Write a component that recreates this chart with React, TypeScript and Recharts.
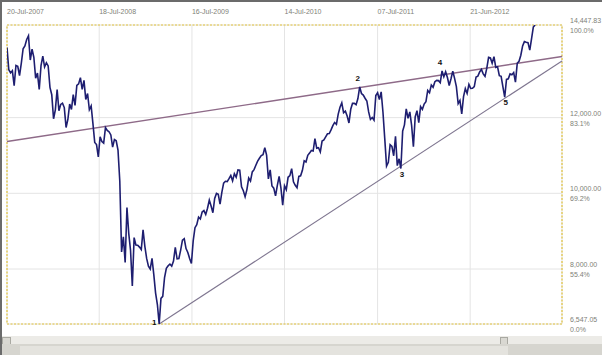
import {
  CartesianGrid,
  Line,
  LineChart,
  ReferenceArea,
  ReferenceDot,
  ReferenceLine,
  XAxis,
  YAxis,
} from "recharts";

// weekly closes (Jul 2007 .. Mar 2013)
const closes2007 = [
  13851, 13265, 13182, 13240, 12845, 13378, 13358, 13113, 13442, 13820, 13896, 14066,
  14165, 13522, 13807, 13595, 13042, 13176, 12743, 13372, 13625, 13339, 13450, 13366,
];
const closes2008 = [
  12800, 12606, 11971, 12207, 12743, 12182, 12348, 12381, 12266, 11740, 11951, 12361,
  12216, 12609, 12325, 12849, 12891, 13058, 12745, 12986, 12479, 12638, 12209, 12307,
  11843, 11346, 11288, 10963, 11496, 11370, 11326, 11734, 11659, 11628, 11543, 11220,
  11421, 11388, 11143, 10325, 8451, 8852, 8175, 9625, 8943, 8497, 7552, 8829,
  8635, 8629, 8579, 8515,
];
const closes2009 = [
  9034, 8599, 8281, 8077, 8000, 8280, 7850, 7365, 7062, 6547.05, 7224, 7278,
  7776, 8017, 8083, 8131, 8076, 8212, 8575, 8268, 8277, 8500, 8764, 8799,
  8540, 8438, 8280, 8146, 8743, 9093, 9172, 9370, 9321, 9505, 9544, 9441,
  9605, 9820, 9665, 9487, 9865, 9996, 9972, 9713, 10023, 10270, 10318, 10310,
  10388, 10471, 10329, 10520, 10428,
];
const closes2010 = [
  10618, 10610, 10173, 10067, 9908, 10099, 10402, 10325, 10566, 10625, 10742, 10850,
  10927, 10997, 11019, 11204, 11009, 10380, 10620, 10193, 10137, 9931, 10212, 10450,
  10144, 9686, 10198, 10097, 10424, 10466, 10654, 10303, 10213, 10150, 10448, 10463,
  10607, 10860, 10829, 11006, 11063, 11133, 11118, 11444, 11193, 11204, 11092, 11382,
  11410, 11492, 11573, 11578,
];
const closes2011 = [
  11675, 11787, 11872, 11824, 12092, 12273, 12391, 12130, 12170, 12044, 11859, 12221,
  12377, 12380, 12342, 12505, 12811, 12638, 12596, 12512, 12441, 12151, 11952, 12004,
  11934, 12583, 12657, 12479, 12681, 12143, 11445, 10720, 10818, 11285, 11240, 10992,
  11509, 10733, 10913, 10655, 11644, 11809, 12231, 11983, 12153, 11796, 11231, 12019,
  12184, 11866, 12294, 12218,
];
const closes2012 = [
  12360, 12422, 12720, 12660, 12862, 12801, 12950, 12983, 12978, 12922, 13233, 13081,
  13212, 13060, 12850, 13029, 13228, 13038, 12821, 12369, 12455, 12101, 12554, 12767,
  12640, 12880, 12772, 12777, 12822, 13075, 13096, 13207, 13275, 13157, 13090, 13306,
  13593, 13579, 13437, 13610, 13328, 13343, 13107, 13093, 12815, 12542, 13010, 13026,
  13155, 13135, 13190, 12938,
];
const closes2013 = [13435, 13488, 13650, 13896, 14010, 13993, 13982, 13784, 14090, 14397, 14447.83];

const closes = [
  ...closes2007,
  ...closes2008,
  ...closes2009,
  ...closes2010,
  ...closes2011,
  ...closes2012,
  ...closes2013,
];

const xDomainEnd = 310;
const xTickIndex = [0, 51.5, 103.3, 155, 207, 258.7];
const xTickLabels = ["20-Jul-2007", "18-Jul-2008", "16-Jul-2009", "14-Jul-2010", "07-Jul-2011", "21-Jun-2012"];

const yMin = 6547.05;
const yMax = 14447.83;
const yTickValues = [6547.05, 8000, 10000, 12000, 14447.83];
const yTickLabels = ["6,547.05", "8,000.00", "10,000.00", "12,000.00", "14,447.83"];
const yTickPercent = ["0.0%", "55.4%", "69.2%", "83.1%", "100.0%"];

const upperTrend = [
  { x: 0, y: 11369 },
  { x: 310, y: 13615 },
];
const lowerTrend = [
  { x: 85, y: 6547.05 },
  { x: 310, y: 13497 },
];

const waveLabels = ["1", "2", "3", "4", "5"];
const waveIndex = [85, 197, 220, 243, 278];
const waveSide = ["left", "top", "bottom", "top", "bottom"];

const data = closes.map((v, i) => ({ i, v }));

const FONT = "'Liberation Sans Narrow', 'Liberation Sans', Arial, sans-serif";

function XTick(props: any) {
  const { x, payload } = props;
  const idx = xTickIndex.indexOf(payload.value);
  return (
    <text x={x} y={14} fontSize={7} fontFamily={FONT} fill="#807f78" textAnchor="start">
      {xTickLabels[idx]}
    </text>
  );
}

function YTick(props: any) {
  const { y, payload } = props;
  const idx = yTickValues.indexOf(payload.value);
  return (
    <g>
      <text x={570} y={y - 2} fontSize={7} fontFamily={FONT} fill="#807f78">
        {yTickLabels[idx]}
      </text>
      <text x={570} y={y + 8} fontSize={7} fontFamily={FONT} fill="#807f78">
        {yTickPercent[idx]}
      </text>
    </g>
  );
}

function WaveMark(side: string, text: string) {
  return (props: any) => {
    const { cx, cy } = props;
    let dx = 0;
    let dy = 0;
    if (side === "left") {
      dx = -5;
      dy = 1;
    } else if (side === "top") {
      dx = -2;
      dy = -6;
    } else {
      dx = 1;
      dy = 8;
    }
    return (
      <text
        x={cx + dx}
        y={cy + dy}
        fontSize={8}
        fontWeight="bold"
        fontFamily="'Liberation Sans', Arial, sans-serif"
        fill="#111"
        textAnchor="middle"
      >
        {text}
      </text>
    );
  };
}

export default function App() {
  return (
    <div
      style={{
        position: "absolute",
        left: 0,
        top: 0,
        width: 602,
        height: 355,
        background: "#fff",
        overflow: "hidden",
      }}
    >
      <div style={{ position: "absolute", left: 0, top: 0, width: 602, height: 2, background: "#6b6b6b" }} />
      <div style={{ position: "absolute", left: 0, top: 0, width: 2, height: 355, background: "#6b6b6b" }} />

      <div style={{ position: "absolute", left: 0, top: 0 }}>
        <LineChart
          width={602}
          height={336}
          data={data}
          margin={{ top: 0, right: 0, left: 7, bottom: 12 }}
        >
          <CartesianGrid stroke="#e4e4e4" strokeWidth={1} />
          <XAxis
            dataKey="i"
            type="number"
            orientation="top"
            height={25}
            domain={[0, xDomainEnd]}
            ticks={xTickIndex}
            interval={0}
            axisLine={false}
            tickLine={false}
            tick={XTick}
            allowDataOverflow
          />
          <YAxis
            type="number"
            orientation="right"
            width={40}
            domain={[yMin, yMax]}
            ticks={yTickValues}
            interval={0}
            axisLine={false}
            tickLine={false}
            tick={YTick}
            allowDataOverflow
          />
          <ReferenceArea
            x1={0}
            x2={xDomainEnd}
            y1={yMin}
            y2={yMax}
            fill="none"
            stroke="#e2c23a"
            strokeWidth={1.2}
            strokeDasharray="2 1.5"
            ifOverflow="visible"
          />
          <ReferenceLine segment={upperTrend} stroke="#8e6a88" strokeWidth={1.4} ifOverflow="visible" />
          <ReferenceLine segment={lowerTrend} stroke="#7f7690" strokeWidth={1.1} ifOverflow="visible" />
          <Line
            type="linear"
            dataKey="v"
            stroke="#1e1e70"
            strokeWidth={1.6}
            dot={false}
            isAnimationActive={false}
          />
          {waveLabels.map((lbl, k) => (
            <ReferenceDot
              key={lbl}
              x={waveIndex[k]}
              y={closes[waveIndex[k]]}
              r={0}
              ifOverflow="visible"
              shape={WaveMark(waveSide[k], lbl)}
            />
          ))}
        </LineChart>
      </div>

      <div style={{ position: "absolute", left: 2, top: 336, width: 600, height: 19, background: "#ecebe7" }} />
      <div style={{ position: "absolute", left: 2, top: 337, width: 7, height: 6, background: "#d9d8d2", border: "1px solid #a9a9a2" }} />
      <div style={{ position: "absolute", left: 500, top: 337, width: 6, height: 6, background: "#d9d8d2", border: "1px solid #a9a9a2" }} />
      <div style={{ position: "absolute", left: 2, top: 344, width: 600, height: 11, background: "#d6d5cf" }} />
      <div style={{ position: "absolute", left: 20, top: 346, width: 488, height: 9, background: "#e4e3de" }} />
    </div>
  );
}
